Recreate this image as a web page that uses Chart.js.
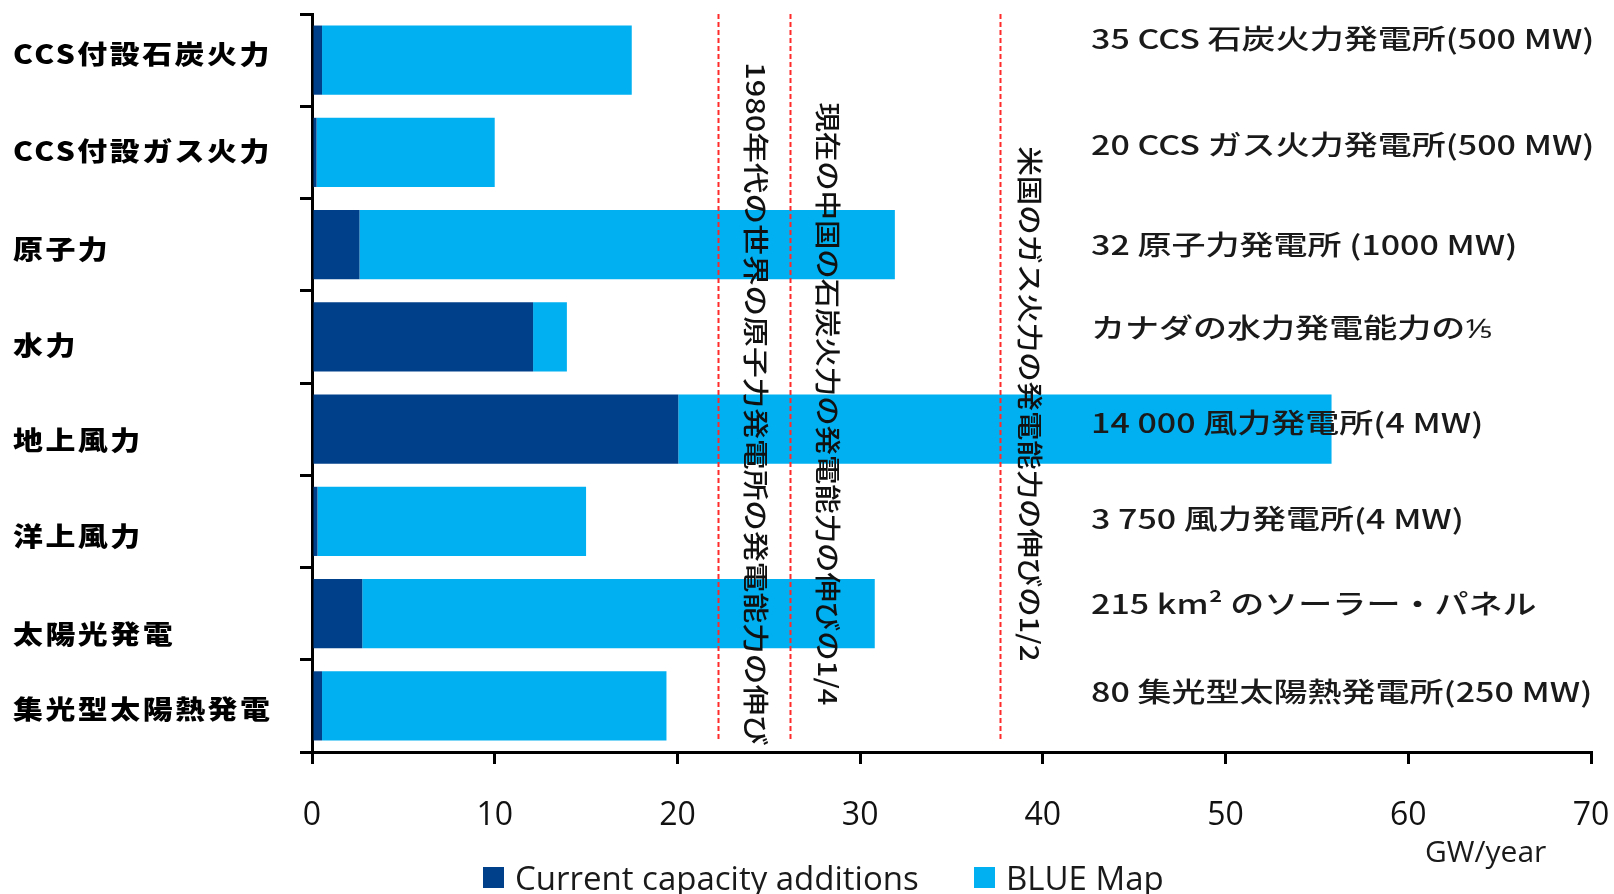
<!DOCTYPE html>
<html>
<head>
<meta charset="utf-8">
<script src="https://cdn.jsdelivr.net/npm/chart.js@4"></script>
<style>
  html, body { margin: 0; padding: 0; background: #fff; }
  canvas { display: block; }
</style>
</head>
<body>
<canvas id="capacityChart" width="1614" height="894"></canvas>
<script>
// Data (GW/year)
const categories = ["CCS付設石炭火力", "CCS付設ガス火力", "原子力", "水力", "地上風力", "洋上風力", "太陽光発電", "集光型太陽熱発電"];
const currentAdditions = [0.55, 0.25, 2.6, 12.1, 20.05, 0.3, 2.75, 0.55];
const blueMapExtra = [16.95, 9.75, 29.3, 1.85, 35.75, 14.7, 28.05, 18.85];
const xTicks = [0, 10, 20, 30, 40, 50, 60, 70];

// Right-hand notes, one per category
const rowNotes = [
  "35 CCS 石炭火力発電所(500 MW)",
  "20 CCS ガス火力発電所(500 MW)",
  "32 原子力発電所 (1000 MW)",
  "カナダの水力発電能力の⅕",
  "14 000 風力発電所(4 MW)",
  "3 750 風力発電所(4 MW)",
  "215 km² のソーラー・パネル",
  "80 集光型太陽熱発電所(250 MW)",
];

// Reference lines (GW/year) and their vertical notes
const refValues = [22.2, 26.15, 37.65];
const refNotes = [
  "1980年代の世界の原子力発電所の発電能力の伸び",
  "現在の中国の石炭火力の発電能力の伸びの1/4",
  "米国のガス火力の発電能力の伸びの1/2",
];

// Small layout nudges (px) for the text, relative to category centres
const labelNudge = [-6, -1, 4, 8, 11, 15, 20, 3];
const noteNudge = [-21, -8, 0, -9, -6, -3, -10, -14];
const refNoteShift = [38, 38, 30];
const refNoteStretch = [1.18, 1.13, 1.13];

const DARK = "#00408A";
const LIGHT = "#00B0F0";

function drawStretched(ctx, text, x, y, font, sx, spacing) {
  ctx.save();
  ctx.translate(x, y);
  ctx.scale(sx, 1);
  ctx.font = font;
  ctx.letterSpacing = spacing;
  ctx.fillText(text, 0, 0);
  ctx.restore();
}

const notesPlugin = {
  id: "notes",
  afterDraw(chart) {
    const { ctx, chartArea, scales } = chart;
    const x = scales.x, y = scales.y;
    ctx.save();
    ctx.textBaseline = "middle";
    ctx.textAlign = "left";

    // category labels on the left
    ctx.fillStyle = "#000";
    categories.forEach((c, i) => {
      drawStretched(ctx, c, 13, y.getPixelForValue(i) + labelNudge[i],
        '900 26px "Noto Sans CJK JP"', 1.15, "2.2px");
    });

    // dashed red reference lines
    ctx.strokeStyle = "#FF2A2A";
    ctx.lineWidth = 2;
    ctx.setLineDash([5, 3]);
    refValues.forEach((v) => {
      const px = Math.round(x.getPixelForValue(v)) + 0.5;
      ctx.beginPath();
      ctx.moveTo(px, chartArea.top);
      ctx.lineTo(px, chartArea.bottom - 13);
      ctx.stroke();
    });
    ctx.setLineDash([]);

    // vertical notes next to the lines
    ctx.fillStyle = "#111";
    ctx.textAlign = "center";
    const midY = (chartArea.top + chartArea.bottom) / 2 + 21;
    refValues.forEach((v, i) => {
      ctx.save();
      ctx.translate(x.getPixelForValue(v) + refNoteShift[i], midY);
      ctx.rotate(Math.PI / 2);
      ctx.scale(refNoteStretch[i], 1);
      ctx.font = '500 26px "Noto Sans CJK JP"';
      ctx.fillText(refNotes[i], 0, 0);
      ctx.restore();
    });

    // notes on the right
    ctx.textAlign = "left";
    ctx.fillStyle = "#1a1a1a";
    rowNotes.forEach((t, i) => {
      drawStretched(ctx, t, 1091, y.getPixelForValue(i) + noteNudge[i],
        '500 27px "Noto Sans CJK JP"', 1.26, "0px");
    });

    // unit label
    ctx.font = '30px "Open Sans"';
    ctx.fillText("GW/year", 1425, 853);

    // legend
    const legendItems = [
      { text: "Current capacity additions", color: DARK, x: 483 },
      { text: "BLUE Map", color: LIGHT, x: 974 },
    ];
    ctx.font = '33px "Open Sans"';
    legendItems.forEach((item) => {
      ctx.fillStyle = item.color;
      ctx.fillRect(item.x, 867, 21, 21);
      ctx.fillStyle = "#1a1a1a";
      ctx.fillText(item.text, item.x + 32, 881);
    });
    ctx.restore();
  },
};

const axisCommon = {
  border: { color: "#000", width: 3 },
  grid: {
    drawOnChartArea: false,
    drawTicks: true,
    tickLength: 12,
    color: "#000",
    lineWidth: 3,
  },
};

const chart = new Chart(document.getElementById("capacityChart"), {
  type: "bar",
  data: {
    labels: categories,
    datasets: [
      {
        label: "Current capacity additions",
        data: currentAdditions,
        backgroundColor: DARK,
        categoryPercentage: 0.75,
        barPercentage: 1,
      },
      {
        label: "BLUE Map",
        data: blueMapExtra,
        backgroundColor: LIGHT,
        categoryPercentage: 0.75,
        barPercentage: 1,
      },
    ],
  },
  options: {
    indexAxis: "y",
    responsive: false,
    animation: false,
    layout: { padding: { top: 14, right: 0, left: 0, bottom: 0 } },
    scales: {
      x: {
        ...axisCommon,
        stacked: true,
        min: 0,
        max: 70,
        z: 1,
        afterBuildTicks: (scale) => {
          scale.ticks = xTicks.map((v) => ({ value: v }));
        },
        ticks: {
          font: { family: "Open Sans", size: 32 },
          color: "#111",
          padding: 33,
          maxRotation: 0,
        },
        afterFit: (scale) => {
          scale.height = 142;
          scale.paddingLeft = 0;
          scale.paddingRight = 23;
        },
      },
      y: {
        ...axisCommon,
        stacked: true,
        z: 1,
        ticks: { display: false },
        afterFit: (scale) => {
          scale.width = 312;
        },
      },
    },
    plugins: {
      legend: { display: false },
      tooltip: { enabled: false },
    },
  },
  plugins: [notesPlugin],
});
</script>
</body>
</html>
